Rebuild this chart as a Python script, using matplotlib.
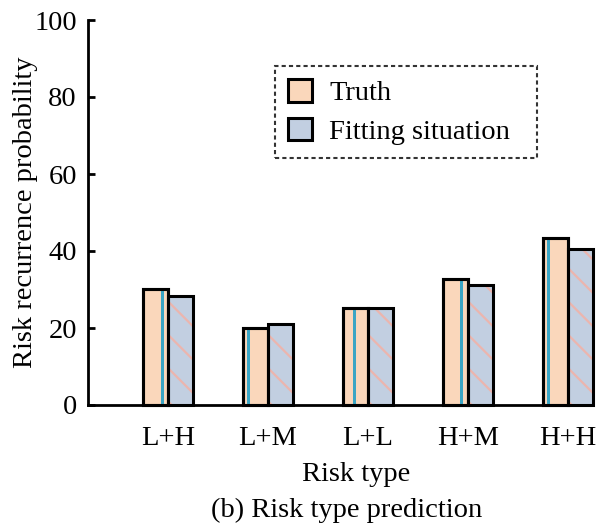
import matplotlib
matplotlib.use("Agg")
import matplotlib.pyplot as plt
import numpy as np
from matplotlib.patches import Rectangle

categories = ["L+H", "L+M", "L+L", "H+M", "H+H"]
truth = [30.2, 20.1, 25.1, 32.6, 43.3]
fitting = [28.2, 21.1, 25.1, 31.2, 40.4]
yticks = [0, 20, 40, 60, 80, 100]

DPI = 100
plt.rcParams['font.family'] = ['Liberation Serif', 'DejaVu Serif']
plt.rcParams['hatch.linewidth'] = 1.6
FS = 20.5

truth_face = '#fad7bb'
stripe_col = '#3aa5c4'
fit_face = '#c2cfe1'
hatch_col = '#ebb5ae'

fig = plt.figure(figsize=(5.98, 5.23), dpi=DPI)
W, H = 598, 523
ax = fig.add_axes([88 / W, (H - 405) / H, 480 / W, 385 / H])

x = np.arange(len(categories))
bw = 0.25
# truth bars
ax.bar(x - bw / 2, truth, bw, color=truth_face, edgecolor='black', linewidth=2.2, zorder=2, clip_on=False)
# cyan stripes inside truth bars (style offsets as fraction of bar width)
stripe_frac = [0.76, 0.2, 0.47, 0.75, 0.22]
for xi, v, f in zip(x, truth, stripe_frac):
    ax.bar(xi - bw + f * bw, v - 0.5, 0.03, bottom=0, color=stripe_col, linewidth=0, zorder=3)
ax.bar(x - bw / 2, truth, bw, color='none', edgecolor='black', linewidth=2.2, zorder=4, clip_on=False)
# fitting bars with hatch
ax.bar(x + bw / 2, fitting, bw, color=fit_face, edgecolor=hatch_col, hatch='\\', linewidth=0, zorder=2, clip_on=False)
ax.bar(x + bw / 2, fitting, bw, color='none', edgecolor='black', linewidth=2.2, zorder=4, clip_on=False)

ax.set_xlim(-0.8, 4.0)
ax.set_ylim(0, 100)
ax.set_yticks(yticks)
ax.set_xticks(x)
ax.set_xticklabels(categories)
for s in ['top', 'right']:
    ax.spines[s].set_visible(False)
for s in ['left', 'bottom']:
    ax.spines[s].set_linewidth(2.0)
ax.tick_params(axis='y', direction='in', length=5, width=2, labelsize=FS, pad=8)
ax.tick_params(axis='x', length=0, labelsize=FS, pad=15)

ax.set_ylabel('Risk recurrence probability', fontsize=FS)
ax.yaxis.set_label_coords(-0.105, 0.5)
ax.set_xlabel('Risk type', fontsize=FS)
ax.xaxis.set_label_coords(0.558, -0.148)
fig.text(347 / W, (H - 510) / H, '(b) Risk type prediction', fontsize=FS, ha='center', va='center')

h_truth = Rectangle((0, 0), 1, 1, facecolor=truth_face, edgecolor='black', linewidth=2.2)
h_fit = Rectangle((0, 0), 1, 1, facecolor=fit_face, edgecolor='black', linewidth=2.2)
leg = ax.legend([h_truth, h_fit], ['Truth', 'Fitting situation  '], fontsize=FS,
                loc='upper left', bbox_to_anchor=(0.39, 0.88), fancybox=False,
                handlelength=0.85, handleheight=0.85, handletextpad=0.6,
                labelspacing=0.4, borderpad=0.45, borderaxespad=0)
fr = leg.get_frame()
fr.set_edgecolor('black')
fr.set_linestyle((0, (2, 1.5)))
fr.set_linewidth(1.5)

fig.savefig('out.png', dpi=DPI)
